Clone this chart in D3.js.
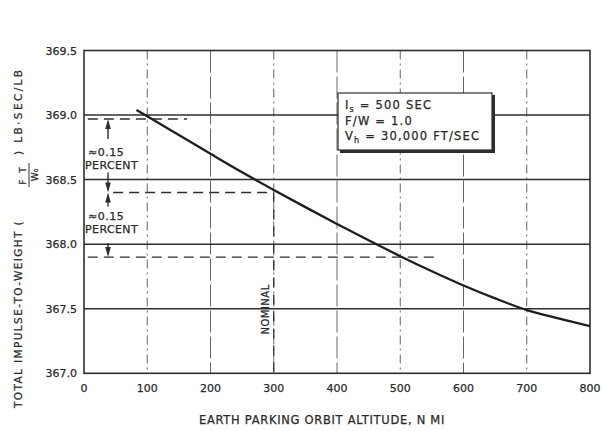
<!DOCTYPE html>
<html>
<head>
<title>Impulse-to-weight vs parking orbit altitude</title>
<script src="https://d3js.org/d3.v7.min.js"></script>
</head>
<body style="margin:0;background:#fff">
</body>

<style>
text { font-family: "DejaVu Sans", sans-serif; fill: #2a2a2a; stroke: #2a2a2a; stroke-width: 0.25px; }
</style>

<script>

// values
var xTicks = [0, 100, 200, 300, 400, 500, 600, 700, 800];
var yTicks = [367.0, 367.5, 368.0, 368.5, 369.0, 369.5];
var altitude = [83, 100, 150, 200, 250, 300, 350, 400, 450, 500, 550, 600, 650, 700, 750, 800];
var impulse = [369.04, 368.99, 368.845, 368.70, 368.557, 368.42, 368.287, 368.157, 368.03, 367.907, 367.79, 367.68, 367.58, 367.49, 367.425, 367.365];

// dashed reference levels: [level, from altitude, to altitude]
var refLevels = [[368.97, 6, 163], [368.40, 46, 300], [367.90, 6, 560]];
var nominalAlt = 300;
var dimArrowAlt = 38;
var percentLabel = ["\u22480.15", "PERCENT"];
var legendLines = ["500 SEC", "F/W = 1.0", "30,000 FT/SEC"];

var W = 603, H = 431;
var svg = d3.select("body").append("svg").attr("width", W).attr("height", H);

var x = d3.scaleLinear().domain([0, 800]).range([84, 590]);
var y = d3.scaleLinear().domain([367, 369.5]).range([373.3, 50.5]);

var ink = "#2e2e2e";

// vertical grid (dash-dot)
svg.selectAll("line.vg")
	.data(xTicks.filter(function(d){ return d > 0 && d < 800; }))
	.enter().append("line")
	.attr("x1", function(d){ return x(d); })
	.attr("x2", function(d){ return x(d); })
	.attr("y1", y(369.5))
	.attr("y2", y(367))
	.style("stroke", "#666")
	.style("stroke-width", 1)
	.style("stroke-dasharray", function(d){ return (d % 200 == 0) ? "22,4" : "9,4,2,4"; });

// horizontal grid (solid)
svg.selectAll("line.hg")
	.data(yTicks.filter(function(d){ return d > 367 && d < 369.5; }))
	.enter().append("line")
	.attr("x1", x(0))
	.attr("x2", x(800))
	.attr("y1", function(d){ return y(d); })
	.attr("y2", function(d){ return y(d); })
	.style("stroke", ink)
	.style("stroke-width", 1.5);

// frame
svg.append("rect")
	.attr("x", x(0)).attr("y", y(369.5))
	.attr("width", x(800) - x(0)).attr("height", y(367) - y(369.5))
	.style("fill", "none").style("stroke", ink).style("stroke-width", 1.6);

// dashed reference levels
svg.selectAll("line.ref")
	.data(refLevels)
	.enter().append("line")
	.attr("x1", function(d){ return x(d[1]); })
	.attr("x2", function(d){ return x(d[2]); })
	.attr("y1", function(d){ return y(d[0]); })
	.attr("y2", function(d){ return y(d[0]); })
	.style("stroke", ink)
	.style("stroke-width", 1.4)
	.style("stroke-dasharray", "10,6");

// nominal altitude line
svg.append("line")
	.attr("x1", x(nominalAlt)).attr("x2", x(nominalAlt))
	.attr("y1", y(368.40)).attr("y2", y(367))
	.style("stroke", ink).style("stroke-width", 1.3)
	.style("stroke-dasharray", "10,7");

svg.append("text")
	.attr("transform", "translate(" + (x(nominalAlt) - 5) + "," + y(367.3) + ") rotate(-90)")
	.style("font-size", "10px")
	.style("letter-spacing", "0.5px")
	.text("NOMINAL");

// curve
var line = d3.line()
	.x(function(d, i){ return x(altitude[i]); })
	.y(function(d){ return y(d); })
	.curve(d3.curveMonotoneX);

svg.append("path")
	.datum(impulse)
	.attr("d", line)
	.style("fill", "none")
	.style("stroke", "#1e1e1e")
	.style("stroke-width", 2.3);

// dimension arrows
function arrow(xp, yFrom, yTip) {
	var dir = yTip < yFrom ? -1 : 1;
	svg.append("line")
		.attr("x1", xp).attr("x2", xp)
		.attr("y1", yFrom).attr("y2", yTip - dir * 6)
		.style("stroke", ink).style("stroke-width", 1.4);
	svg.append("path")
		.attr("d", "M" + xp + "," + yTip + " L" + (xp - 2.8) + "," + (yTip - dir * 10) +
			" L" + (xp + 2.8) + "," + (yTip - dir * 10) + " Z")
		.style("fill", ink);
}

var ax = x(dimArrowAlt);
arrow(ax, y(368.97) + 20, y(368.97));
arrow(ax, y(368.40) - 20, y(368.40));
arrow(ax, y(368.40) + 14, y(368.40));
arrow(ax, y(367.90) - 14, y(367.90));

[[152, 165], [216, 229]].forEach(function(p){
	svg.append("text").attr("x", 88).attr("y", p[0] + 4)
		.style("font-size", "11px").style("letter-spacing", "0.5px").text(percentLabel[0]);
	svg.append("text").attr("x", 85).attr("y", p[1] + 4)
		.style("font-size", "11px").style("letter-spacing", "0.4px").text(percentLabel[1]);
});

// legend box
var lg = svg.append("g");
lg.append("rect").attr("x", 340).attr("y", 95).attr("width", 155).attr("height", 58)
	.style("fill", ink);
lg.append("rect").attr("x", 338).attr("y", 93).attr("width", 154).attr("height", 57)
	.style("fill", "#fff").style("stroke", ink).style("stroke-width", 1.2);

var fs = "11.5px", ls = "1.2px";
var t1 = lg.append("text").attr("x", 345).attr("y", 109).style("font-size", fs).style("letter-spacing", ls);
t1.append("tspan").text("I");
t1.append("tspan").attr("dy", 3).style("font-size", "8px").text("s");
t1.append("tspan").attr("dy", -3).text(" = " + legendLines[0]);

lg.append("text").attr("x", 345).attr("y", 125).style("font-size", fs).style("letter-spacing", ls)
	.text(legendLines[1]);

var t3 = lg.append("text").attr("x", 345).attr("y", 140).style("font-size", fs).style("letter-spacing", ls);
t3.append("tspan").text("V");
t3.append("tspan").attr("dy", 3).style("font-size", "8px").text("h");
t3.append("tspan").attr("dy", -3).text(" = " + legendLines[2]);

// axes labels
svg.selectAll("text.yt")
	.data(yTicks)
	.enter().append("text")
	.attr("x", 77)
	.attr("y", function(d){ return y(d) + 4; })
	.attr("text-anchor", "end")
	.style("font-size", "11px")
	.text(function(d){ return d.toFixed(1); });

svg.selectAll("text.xt")
	.data(xTicks)
	.enter().append("text")
	.attr("x", function(d){ return x(d); })
	.attr("y", 392)
	.attr("text-anchor", "middle")
	.style("font-size", "11px")
	.text(function(d){ return d; });

svg.append("text")
	.attr("x", 322).attr("y", 424)
	.attr("text-anchor", "middle")
	.style("font-size", "11.5px")
	.style("letter-spacing", "0.7px")
	.text("EARTH PARKING ORBIT ALTITUDE, N MI");

// y title, rotated, with the FT / W0 fraction
var yt = svg.append("g").attr("transform", "translate(22,0) rotate(-90)");
yt.append("text").attr("x", -408).attr("y", 0)
	.style("font-size", "10.5px").style("letter-spacing", "1.4px")
	.text("TOTAL IMPULSE-TO-WEIGHT (");
yt.append("text").attr("x", -175).attr("y", 4).attr("text-anchor", "middle")
	.style("font-size", "9px").style("letter-spacing", "2px").text("F T");
yt.append("line").attr("x1", -187).attr("x2", -163).attr("y1", 7).attr("y2", 7)
	.style("stroke", ink).style("stroke-width", 1);
yt.append("text").attr("x", -175).attr("y", 16).attr("text-anchor", "middle")
	.style("font-size", "9px").text("W\u2080");
yt.append("text").attr("x", -155).attr("y", 0)
	.style("font-size", "10.5px").style("letter-spacing", "2.4px")
	.text(") LB\u00b7SEC/LB");

</script>
</html>
